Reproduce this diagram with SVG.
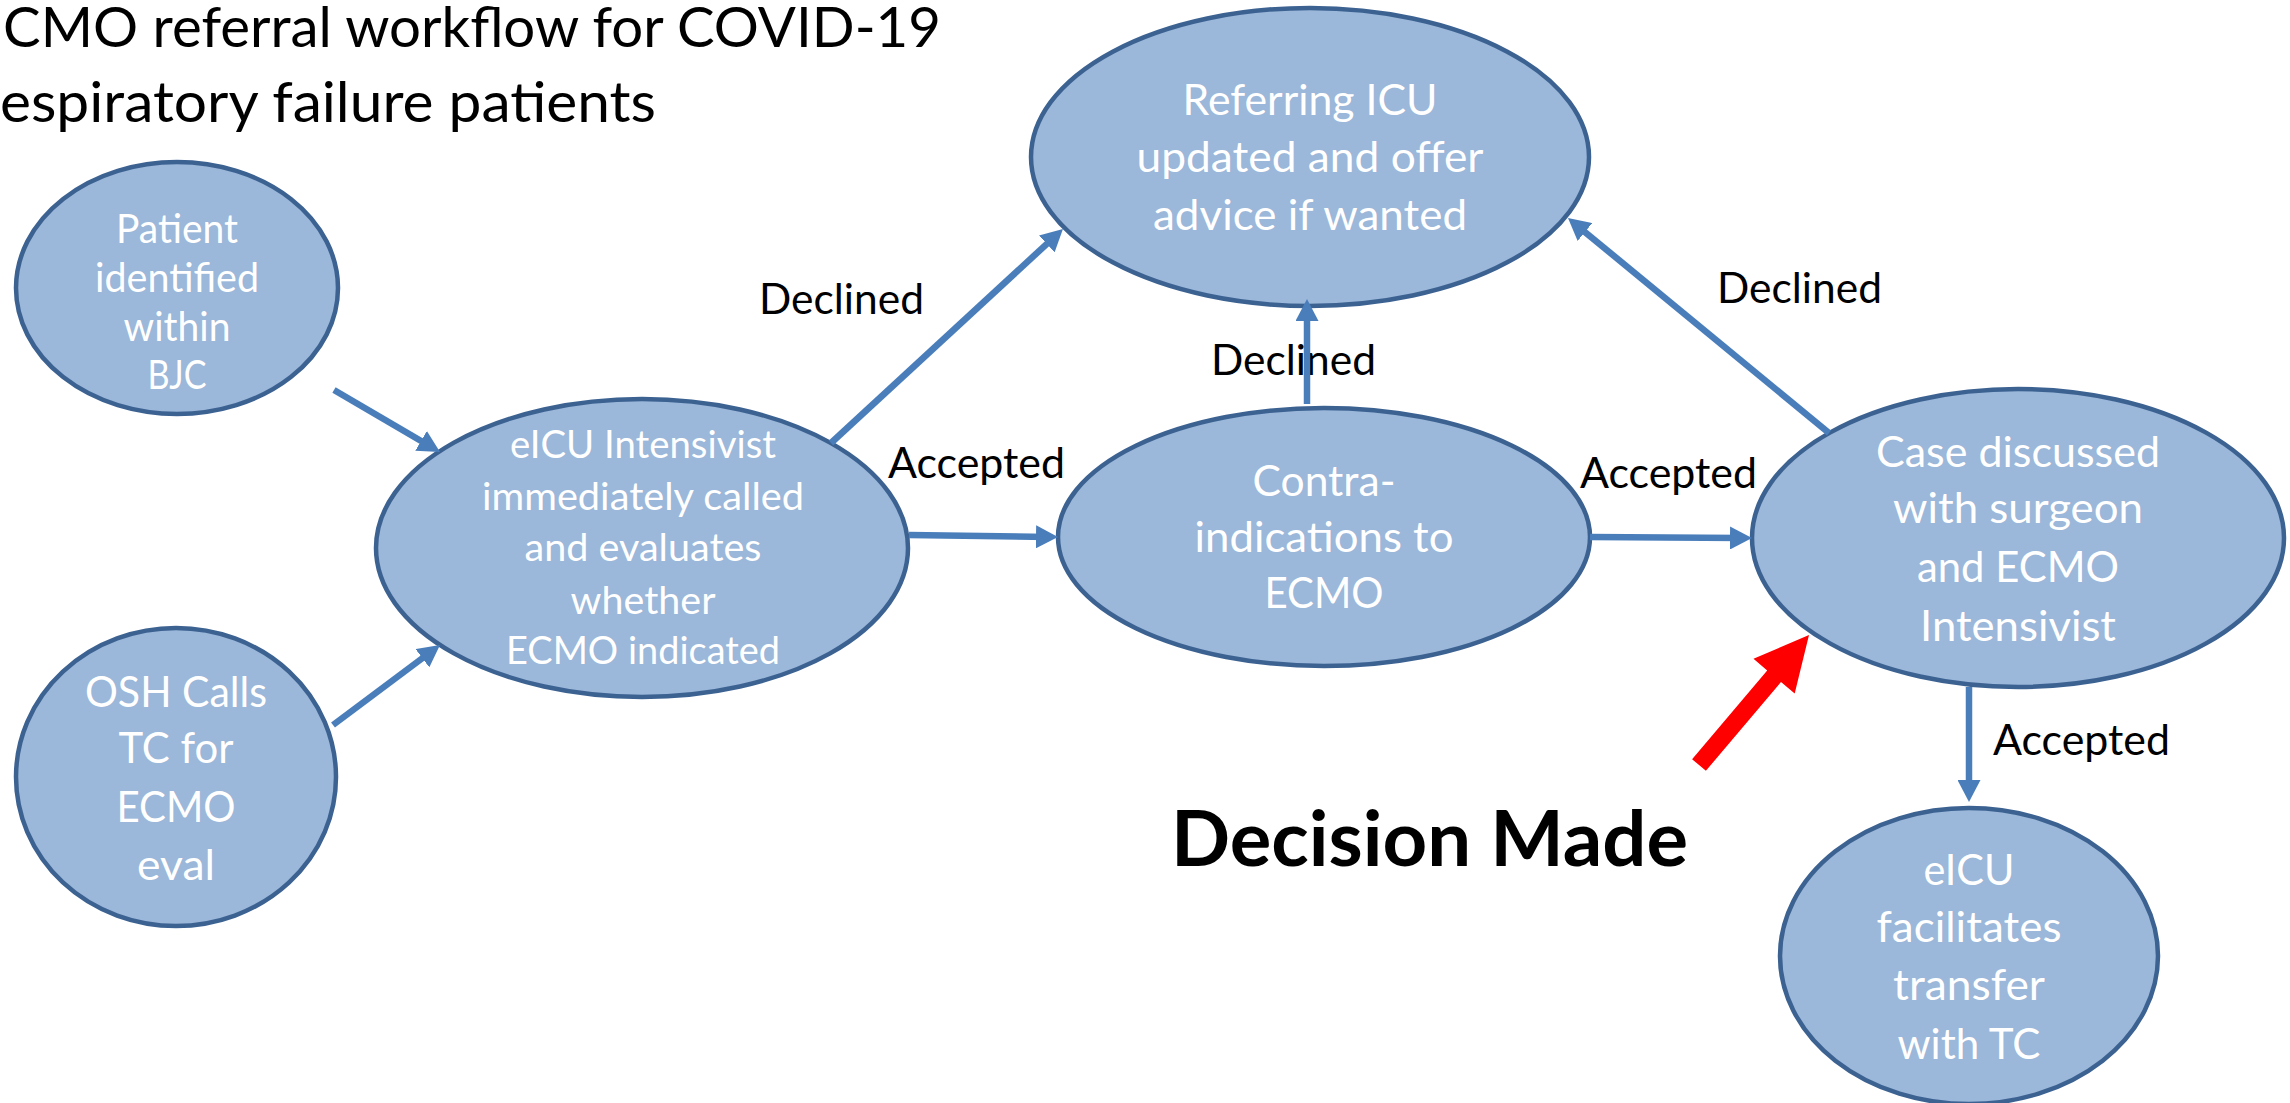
<svg xmlns="http://www.w3.org/2000/svg" width="2290" height="1103" viewBox="0 0 2290 1103">
  <style>
    .node ellipse { fill: #9BB7D9; stroke: #3C6292; stroke-width: 4.5; }
    .node text { fill: #FFFFFF; font-family: Lato, "Liberation Sans", sans-serif; text-anchor: middle; }
    .t42 { font-size: 37.8px; }
    .t45 { font-size: 41px; }
    .t47 { font-size: 42.3px; }
    .lbl { fill: #000000; font-family: Lato, "Liberation Sans", sans-serif; font-size: 42px; }
    .title { fill: #000000; font-family: Lato, "Liberation Sans", sans-serif; font-size: 56.3px; }
    .conn line { stroke: #4A7EBB; stroke-width: 6.5; fill: none; marker-end: url(#arrowhead); }
  </style>
  <defs>
    <marker id="arrowhead" markerUnits="userSpaceOnUse" markerWidth="22" markerHeight="23" viewBox="0 0 22 23" refX="12" refY="11.5" orient="auto">
      <path d="M0,0 L22,11.5 L0,23 z" fill="#4A7EBB"/>
    </marker>
  </defs>
  <rect width="2290" height="1103" fill="#FFFFFF"/>

  <!-- title -->
  <g id="title">
    <text class="title" x="3" y="47" textLength="938" lengthAdjust="spacingAndGlyphs">CMO referral workflow for COVID-19</text>
    <text class="title" x="0" y="122" textLength="656" lengthAdjust="spacingAndGlyphs">espiratory failure patients</text>
  </g>

  <!-- nodes -->
  <g id="node-patient" class="node">
    <ellipse cx="177" cy="288" rx="161" ry="126"/>
    <text class="t45" x="177" y="243" textLength="122" lengthAdjust="spacingAndGlyphs">Patient</text>
    <text class="t45" x="177" y="292" textLength="164" lengthAdjust="spacingAndGlyphs">identified</text>
    <text class="t45" x="177" y="341" textLength="107" lengthAdjust="spacingAndGlyphs">within</text>
    <text class="t45" x="177" y="389" textLength="59" lengthAdjust="spacingAndGlyphs">BJC</text>
  </g>

  <g id="node-osh" class="node">
    <ellipse cx="176" cy="777" rx="160" ry="149"/>
    <text class="t47" x="176" y="707" textLength="182" lengthAdjust="spacingAndGlyphs">OSH Calls</text>
    <text class="t47" x="176" y="763" textLength="115" lengthAdjust="spacingAndGlyphs">TC for</text>
    <text class="t47" x="176" y="822" textLength="119" lengthAdjust="spacingAndGlyphs">ECMO</text>
    <text class="t47" x="176" y="880" textLength="78" lengthAdjust="spacingAndGlyphs">eval</text>
  </g>

  <g id="node-eicu" class="node">
    <ellipse cx="642" cy="548" rx="266" ry="149"/>
    <text class="t42" x="643" y="458" textLength="266" lengthAdjust="spacingAndGlyphs">eICU Intensivist</text>
    <text class="t42" x="643" y="510" textLength="322" lengthAdjust="spacingAndGlyphs">immediately called</text>
    <text class="t42" x="643" y="561" textLength="237" lengthAdjust="spacingAndGlyphs">and evaluates</text>
    <text class="t42" x="643" y="614" textLength="145" lengthAdjust="spacingAndGlyphs">whether</text>
    <text class="t42" x="643" y="664" textLength="274" lengthAdjust="spacingAndGlyphs">ECMO indicated</text>
  </g>

  <g id="node-referring" class="node">
    <ellipse cx="1310" cy="157" rx="279" ry="149"/>
    <text class="t47" x="1310" y="115" textLength="255" lengthAdjust="spacingAndGlyphs">Referring ICU</text>
    <text class="t47" x="1310" y="172" textLength="347" lengthAdjust="spacingAndGlyphs">updated and offer</text>
    <text class="t47" x="1310" y="230" textLength="314" lengthAdjust="spacingAndGlyphs">advice if wanted</text>
  </g>

  <g id="node-contra" class="node">
    <ellipse cx="1324" cy="537" rx="266" ry="129"/>
    <text class="t47" x="1324" y="496" textLength="143" lengthAdjust="spacingAndGlyphs">Contra-</text>
    <text class="t47" x="1324" y="552" textLength="259" lengthAdjust="spacingAndGlyphs">indications to</text>
    <text class="t47" x="1324" y="608" textLength="119" lengthAdjust="spacingAndGlyphs">ECMO</text>
  </g>

  <g id="node-case" class="node">
    <ellipse cx="2018" cy="538" rx="266" ry="149"/>
    <text class="t47" x="2018" y="467" textLength="284" lengthAdjust="spacingAndGlyphs">Case discussed</text>
    <text class="t47" x="2018" y="523" textLength="250" lengthAdjust="spacingAndGlyphs">with surgeon</text>
    <text class="t47" x="2018" y="582" textLength="202" lengthAdjust="spacingAndGlyphs">and ECMO</text>
    <text class="t47" x="2018" y="641" textLength="196" lengthAdjust="spacingAndGlyphs">Intensivist</text>
  </g>

  <g id="node-transfer" class="node">
    <ellipse cx="1969" cy="956" rx="189" ry="148"/>
    <text class="t47" x="1969" y="885" textLength="91" lengthAdjust="spacingAndGlyphs">eICU</text>
    <text class="t47" x="1969" y="942" textLength="185" lengthAdjust="spacingAndGlyphs">facilitates</text>
    <text class="t47" x="1969" y="1000" textLength="152" lengthAdjust="spacingAndGlyphs">transfer</text>
    <text class="t47" x="1969" y="1059" textLength="143" lengthAdjust="spacingAndGlyphs">with TC</text>
  </g>

  <!-- edge labels -->
  <g id="labels">
    <text class="lbl" x="759" y="314" textLength="165" lengthAdjust="spacingAndGlyphs">Declined</text>
    <text class="lbl" x="888" y="478" textLength="177" lengthAdjust="spacingAndGlyphs">Accepted</text>
    <text class="lbl" x="1211" y="375" textLength="165" lengthAdjust="spacingAndGlyphs">Declined</text>
    <text class="lbl" x="1580" y="488" textLength="177" lengthAdjust="spacingAndGlyphs">Accepted</text>
    <text class="lbl" x="1717" y="303" textLength="165" lengthAdjust="spacingAndGlyphs">Declined</text>
    <text class="lbl" x="1993" y="755" textLength="177" lengthAdjust="spacingAndGlyphs">Accepted</text>
  </g>

  <!-- connectors: each line stops short of the tip, the marker reaches it -->
  <g id="connectors" class="conn">
    <line x1="334" y1="390" x2="431.4" y2="447"/>
    <line x1="333" y1="725" x2="432" y2="651"/>
    <line x1="831" y1="443" x2="1055.6" y2="235.8"/>
    <line x1="909" y1="535" x2="1048" y2="536.9"/>
    <line x1="1307" y1="404" x2="1307" y2="309"/>
    <line x1="1590" y1="537" x2="1742" y2="538"/>
    <line x1="1829" y1="433" x2="1575.7" y2="224.4"/>
    <line x1="1969" y1="687" x2="1969" y2="792"/>
  </g>

  <!-- callout -->
  <g id="decision-callout">
    <polygon points="1809,635 1794.7,693.6 1781,682 1705.9,770.8 1692.1,759.2 1767.2,670.4 1753.5,658.8" fill="#FF0000"/>
    <text x="1171" y="866" font-family="Lato, 'Liberation Sans', sans-serif" font-weight="bold" font-size="75.6" fill="#000000" textLength="517" lengthAdjust="spacingAndGlyphs">Decision Made</text>
  </g>
</svg>
